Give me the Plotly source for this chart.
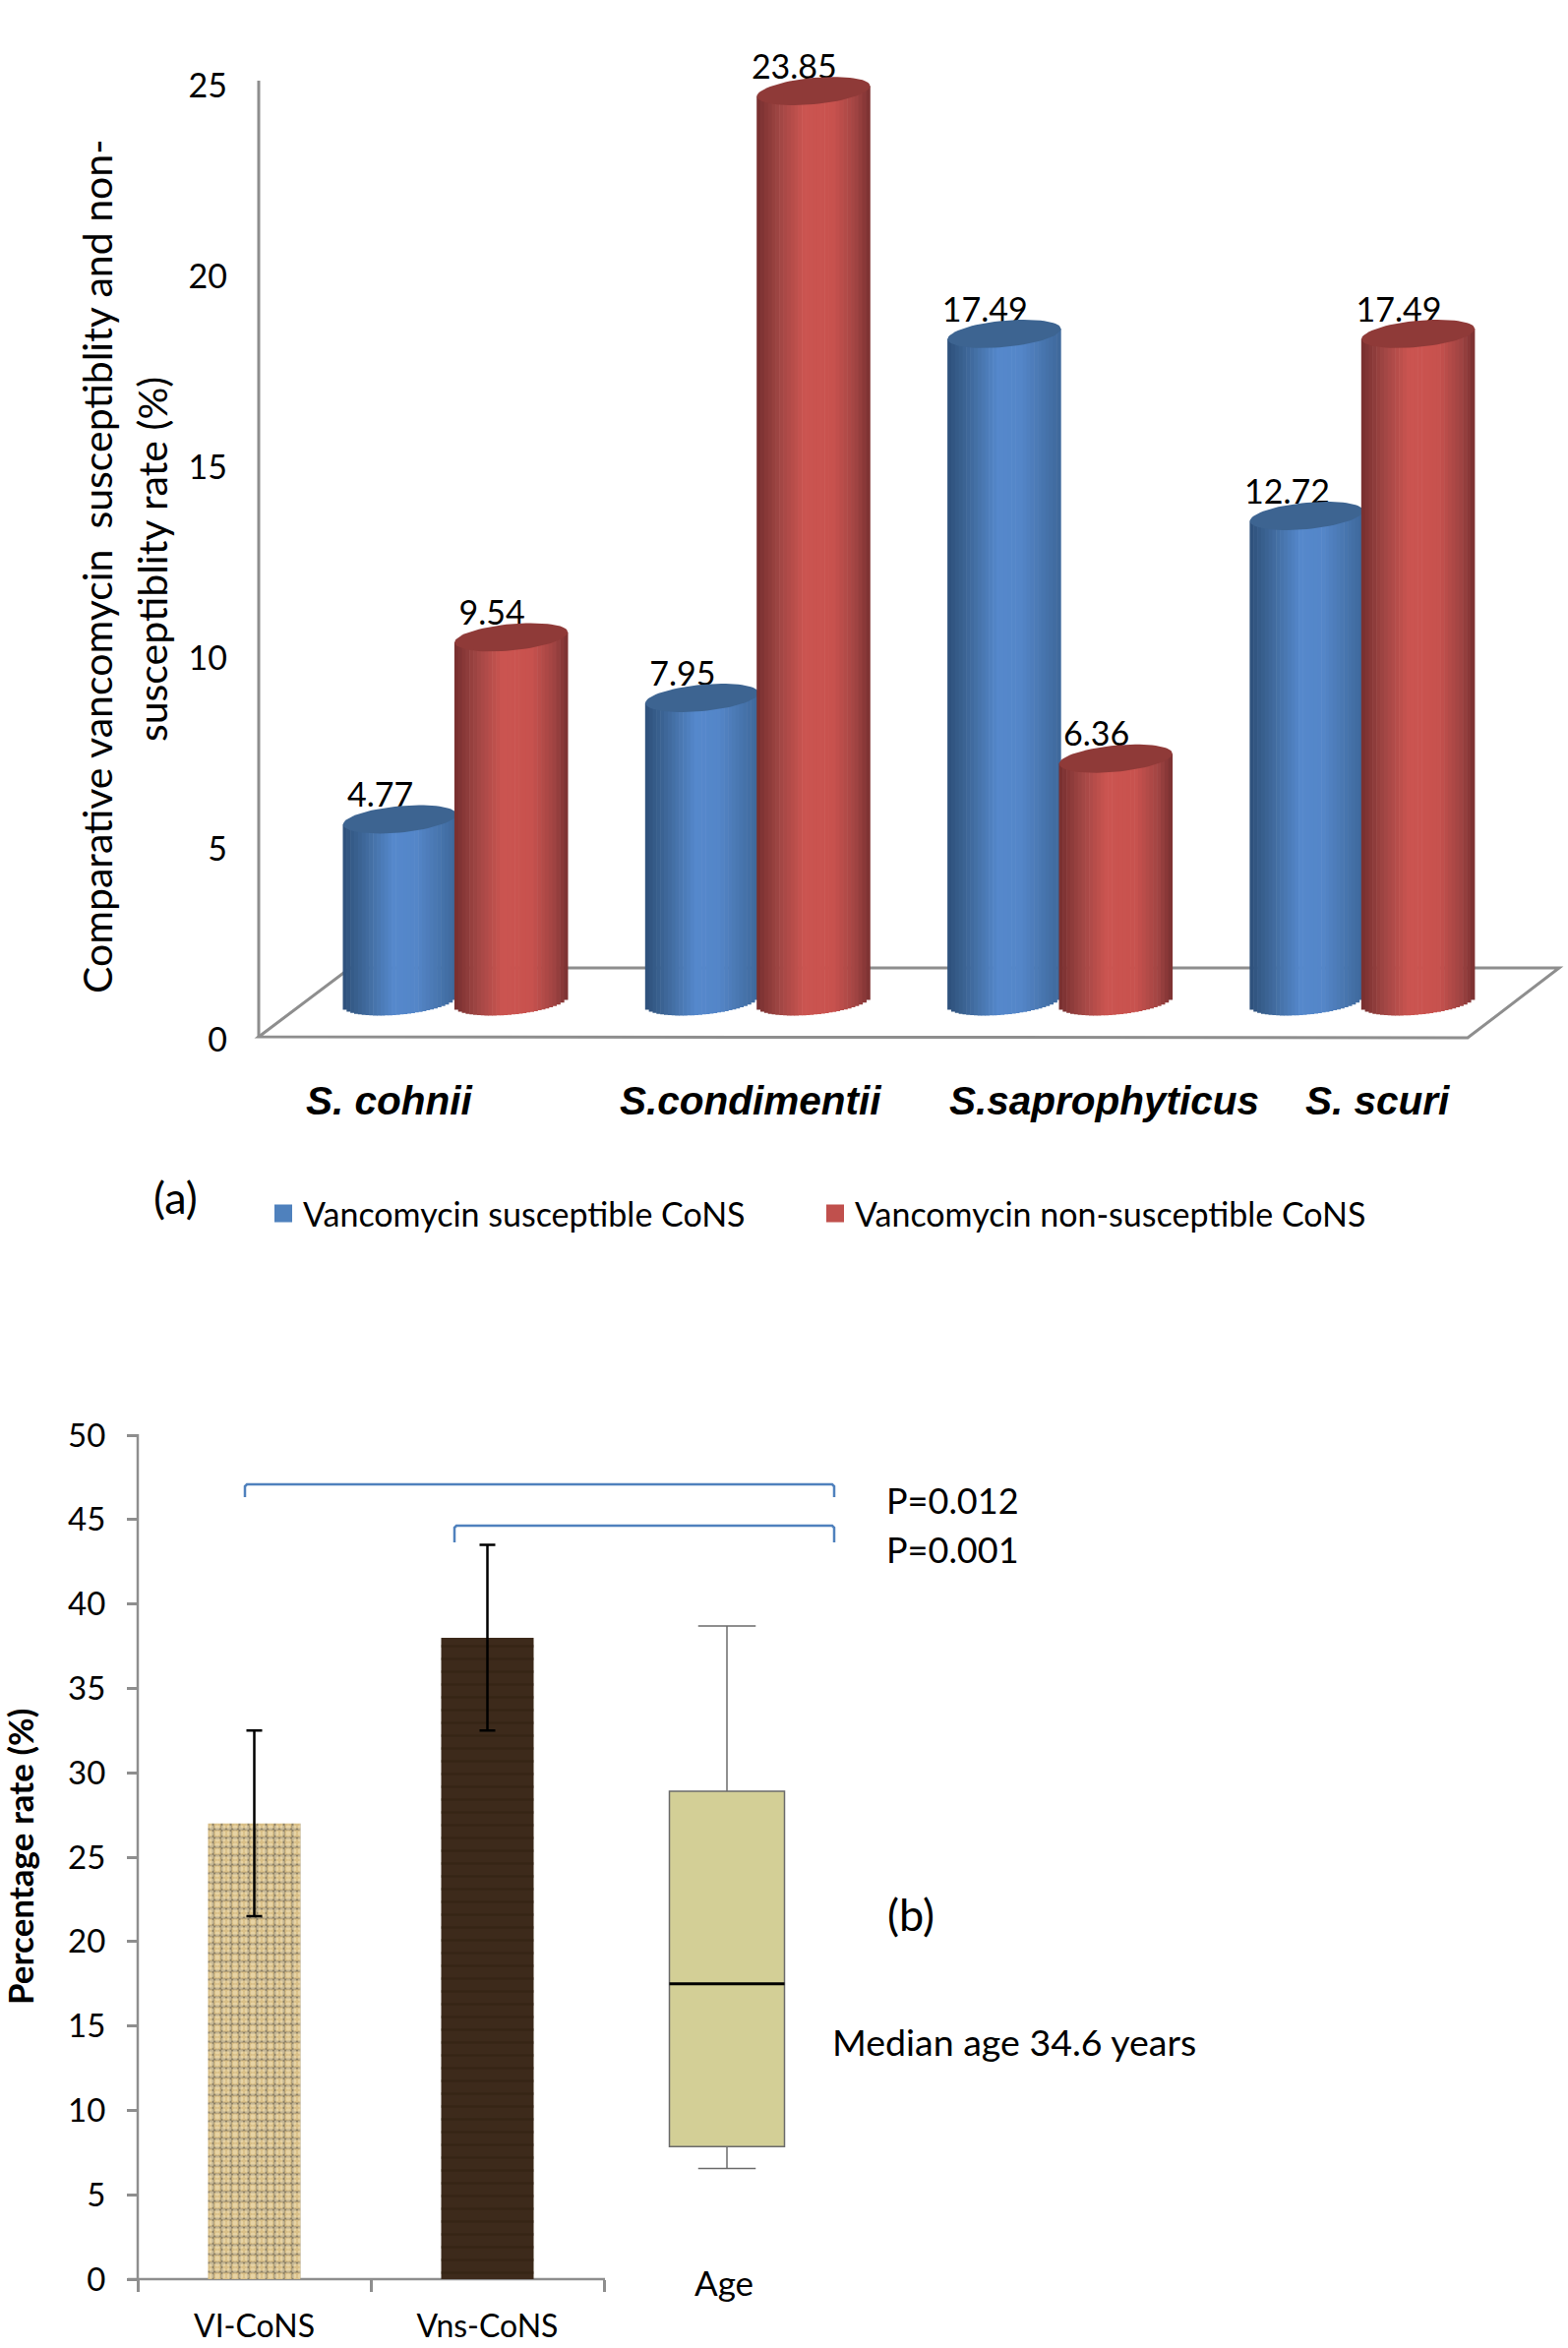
import math
import plotly.graph_objects as go

# ---------- data ----------
species = ["S. cohnii", "S.condimentii", "S.saprophyticus", "S. scuri"]
susceptible = [4.77, 7.95, 17.49, 12.72]
non_susceptible = [9.54, 23.85, 6.36, 17.49]
series_a_names = ["Vancomycin susceptible CoNS", "Vancomycin non-susceptible CoNS"]

groups_b = ["VI-CoNS", "Vns-CoNS"]
rate_b = [27.0, 38.0]
rate_err = [5.5, 5.5]
age_q1 = 7.85
age_median = 17.5
age_q3 = 28.9
age_low = 6.55
age_high = 38.7

W, H = 1594, 2387
FONT = "Lato"
GREY = "#8E8E8E"


def px(x):
    return x / W


def py(y):
    return 1 - y / H


def mix(c1, c2, f):
    return "rgb(%d,%d,%d)" % tuple(round(a + (b - a) * f) for a, b in zip(c1, c2))


def shade(stops, f):
    for (f0, c0), (f1, c1) in zip(stops, stops[1:]):
        if f <= f1:
            return mix(c0, c1, (f - f0) / (f1 - f0))
    return mix(stops[-1][1], stops[-1][1], 0)


BLUE = [(0, (45, 80, 122)), (.18, (62, 103, 152)), (.45, (85, 136, 204)), (.65, (84, 134, 200)), (1, (62, 104, 154))]
RED = [(0, (118, 46, 46)), (.2, (160, 70, 68)), (.42, (203, 84, 80)), (.68, (200, 82, 78)), (.88, (160, 68, 66)), (1, (122, 48, 48))]

# bar plane: one category = 307.3 px, junction of first group at 461 px; value 0 at 1018 px, 38.8 px/unit
UNIT = 307.3
HALF = 57.5 / UNIT
B = 13.5 / 38.8
T = 5.2 / 38.8
N = 30


def cylinder(values, shift, stops, top_color, z):
    xs, bases, hts, cols = [], [], [], []
    for i, v in enumerate(values):
        for k in range(N):
            u = -1 + (2 * k + 1) / N
            low = -B * math.sqrt(1 - u * u) + T * u
            xs.append(i + shift + u * HALF)
            bases.append(low)
            hts.append(v + T * u - low)
            cols.append(shade(stops, (u + 1) / 2))
    out = [go.Bar(x=xs, y=hts, base=bases, width=2 * HALF / N * 1.15, marker=dict(color=cols, line=dict(width=0)),
                  xaxis="x2", yaxis="y2", showlegend=False, zorder=z, hoverinfo="skip")]
    for i, v in enumerate(values):
        ts = [2 * math.pi * j / 72 for j in range(73)]
        out.append(go.Scatter(x=[i + shift + HALF * math.cos(t) for t in ts],
                              y=[v + B * math.sin(t) + T * math.cos(t) for t in ts],
                              mode="lines", fill="toself", fillcolor=top_color, line=dict(width=0),
                              xaxis="x2", yaxis="y2", showlegend=False, zorder=z + 1, hoverinfo="skip"))
    return out


fig = go.Figure()
# anchors the wall axis of panel a
fig.add_trace(go.Scatter(x=[0], y=[0], mode="none", xaxis="x", yaxis="y", showlegend=False, hoverinfo="skip"))
SB, SR = -0.178, 0.191
for tr in cylinder(susceptible, SB, BLUE, "#3D6491", 2):
    fig.add_trace(tr)
for tr in cylinder(non_susceptible, SR, RED, "#8F3A38", 4):
    fig.add_trace(tr)

# data labels
for vals, s in ((susceptible, SB), (non_susceptible, SR)):
    fig.add_trace(go.Scatter(x=[i + s - 0.064 for i in range(4)], y=[v + 0.55 for v in vals],
                             text=["%.2f" % v for v in vals], mode="text",
                             textfont=dict(family=FONT, size=34, color="black"),
                             xaxis="x2", yaxis="y2", showlegend=False, zorder=1, hoverinfo="skip"))

# legend entries
for name, col in zip(series_a_names, ("#4F81BD", "#C0504D")):
    fig.add_trace(go.Scatter(x=[None], y=[None], mode="markers", name=name,
                             marker=dict(symbol="square", size=16, color=col, line=dict(color=col, width=2)),
                             xaxis="x2", yaxis="y2"))

# panel b: textured bars (a base weave plus a second pattern over it)
fig.add_trace(go.Bar(x=groups_b, y=rate_b, width=94 / 237,
                     marker=dict(color=["#D8BE86", "#3D2A1B"], line=dict(width=0),
                                 pattern=dict(shape=["+", ""], fgcolor=["#6F5019", "#3D2A1B"], size=[9, 20],
                                              solidity=[0.42, 0.1], fillmode="overlay")),
                     xaxis="x3", yaxis="y3", showlegend=False))
fig.add_trace(go.Bar(x=groups_b, y=rate_b, width=94 / 237,
                     marker=dict(color="rgba(0,0,0,0)", line=dict(width=0),
                                 pattern=dict(shape=[".", "-"], fgcolor=["#F5E8C2", "#2F1F10"], size=[6, 13],
                                              solidity=[0.5, 0.2], fillmode="overlay")),
                     error_y=dict(type="data", array=rate_err, color="black", thickness=2.5, width=8),
                     xaxis="x3", yaxis="y3", showlegend=False))
fig.add_trace(go.Box(x=["Age"], q1=[age_q1], median=[age_median], q3=[age_q3], lowerfence=[age_low],
                     upperfence=[age_high], width=117 / 237, whiskerwidth=0.5, fillcolor="#D3CF96",
                     line=dict(color="#6B6B6B", width=1.5), boxpoints=False,
                     xaxis="x4", yaxis="y3", showlegend=False))

ann = []


def text(s, x, y, size=31, angle=0, **kw):
    ann.append(dict(text=s, x=px(x), y=py(y), xref="paper", yref="paper", showarrow=False, textangle=angle,
                    xanchor="center", yanchor="middle", font=dict(family=kw.get("family", FONT), size=size, color="black")))


text("Comparative vancomycin  susceptiblity and non-", 99, 576, 41, -90)
text("susceptiblity rate (%)", 155, 569, 41, -90)
for name, x in zip(species, (396, 763, 1122, 1400)):
    text("<b><i>%s</i></b>" % name, x, 1119, 40.5, family="Liberation Sans")
text("(a)", 178, 1217, 45)
text("P=0.012", 968, 1525, 36)
text("P=0.001", 968, 1575, 36)
text("(b)", 926, 1946, 45)
text("Median age 34.6 years", 1031, 2075, 37.5)
text("<b>Percentage rate (%)</b>", 20, 1888, 35, -90)


def bracket(x0, x1, y, drop):
    return dict(type="path", xref="paper", yref="paper", layer="above", line=dict(color="#4F81BD", width=2.5),
                path="M%f,%f L%f,%f L%f,%f L%f,%f L%f,%f L%f,%f" % (
                    px(x0), py(y + drop), px(x0), py(y + 2), px(x0 + 2), py(y), px(x1 - 2), py(y), px(x1), py(y + 2),
                    px(x1), py(y + drop)))


def rule(x0, y0, x1, y1, width):
    return dict(type="line", xref="paper", yref="paper", layer="below", line=dict(color=GREY, width=width),
                x0=px(x0), y0=py(y0), x1=px(x1), y1=py(y1))


shapes = [
    dict(type="path", xref="paper", yref="paper", layer="below", line=dict(color=GREY, width=3),
         path="M%f,%f L%f,%f L%f,%f L%f,%f Z" % (px(263), py(1054), px(356), py(984), px(1585), py(984), px(1492), py(1055))),
    rule(263, 82, 263, 1055, 3),
    rule(140, 1458, 140, 2318, 2.5),
    rule(130, 2317, 615, 2317, 2.5),
    bracket(249, 848, 1509, 13),
    bracket(462, 848, 1551, 17),
    dict(type="line", xref="x4", yref="y3", x0=-117 / 237 / 2, x1=117 / 237 / 2, y0=age_median, y1=age_median,
         line=dict(color="black", width=3)),
]

fig.update_layout(
    width=W, height=H, margin=dict(l=0, r=0, t=0, b=0, autoexpand=False), paper_bgcolor="white",
    plot_bgcolor="rgba(0,0,0,0)",
    barmode="overlay", annotations=ann, shapes=shapes, boxmode="overlay",
    font=dict(family=FONT, color="black"),
    legend=dict(orientation="h", x=px(268), y=py(1205), xanchor="left", yanchor="top", bgcolor="rgba(0,0,0,0)",
                font=dict(family=FONT, size=34), entrywidth=516, entrywidthmode="pixels",
                itemclick=False, itemdoubleclick=False),
    # wall axis of panel a
    xaxis=dict(domain=[px(263), px(1500)], range=[0, 1], visible=False, anchor="y"),
    yaxis=dict(domain=[py(1057), py(87)], range=[0, 25], tickvals=[0, 5, 10, 15, 20, 25], anchor="x",
               showgrid=False, zeroline=False, ticks="",
               tickfont=dict(family=FONT, size=34), ticklabelstandoff=31),
    # bar plane of panel a
    xaxis2=dict(domain=[0, 1], range=[-461 / UNIT, (W - 461) / UNIT], visible=False, anchor="y2"),
    yaxis2=dict(domain=[py(1018 + 38.8), py(1018 - 26 * 38.8)], range=[-1, 26], visible=False, anchor="x2"),
    # panel b
    xaxis3=dict(domain=[px(140), px(614)], range=[-0.5, 1.5], type="category", categoryorder="array",
                categoryarray=groups_b, anchor="y3", ticks="outside",
                tickson="boundaries", ticklen=12, tickwidth=2.5, tickcolor=GREY, showgrid=False,
                tickfont=dict(family=FONT, size=32), ticklabelstandoff=26),
    yaxis3=dict(domain=[py(2317), py(1459)], range=[0, 50], dtick=5, anchor="x3", ticks="outside", ticklen=10,
                tickwidth=2.5, tickcolor=GREY, showgrid=False, zeroline=False,
                tickfont=dict(family=FONT, size=33), ticklabelstandoff=15),
    xaxis4=dict(domain=[px(739 - 118.5), px(739 + 118.5)], range=[-0.5, 0.5], type="category", anchor="free",
                position=py(2298), showline=False, ticks="", showgrid=False, zeroline=False,
                tickfont=dict(family=FONT, size=35), ticklabelshift=-3),
)

fig.write_html("out.html", config={"displayModeBar": False},
               post_script="document.body.style.margin='0';document.documentElement.style.overflow='hidden';")
